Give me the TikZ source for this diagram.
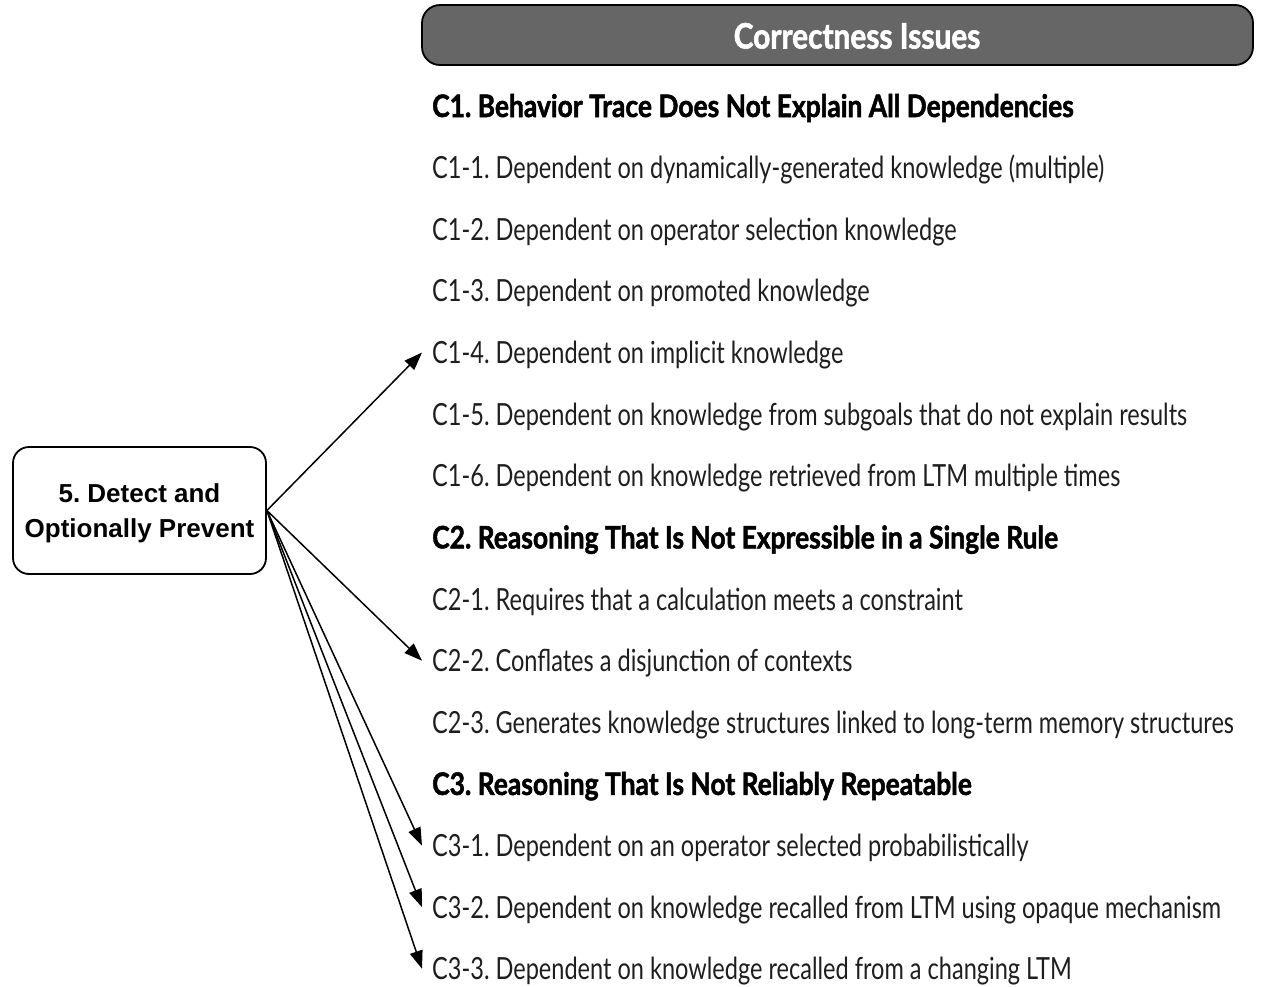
\documentclass[tikz,border=0pt]{standalone}
\usepackage{fontspec}
\setmainfont{Liberation Sans}
\newfontfamily\condreg{Lato}[FakeStretch=0.772]
\newfontfamily\condbold{Lato}[FakeStretch=0.852, BoldFeatures={FakeBold=1.6}]
\usetikzlibrary{arrows.meta}
\definecolor{hdrgray}{HTML}{666666}
\definecolor{txtdark}{HTML}{1E1E1E}
\frenchspacing
\tikzset{
  item/.style={anchor=west, inner xsep=10pt, inner ysep=0pt, text height=22pt, text depth=0pt,
    font=\frenchspacing\condreg\fontsize{30.5}{30.5}\selectfont, text=txtdark},
  headitem/.style={item, font=\frenchspacing\condbold\bfseries\fontsize{31}{31}\selectfont, text=black},
  arr/.style={-{Triangle[length=18pt,width=13pt]}, line width=1.5pt},
  srcbox/.style={draw, line width=1.8pt, rounded corners=16pt, minimum width=253pt, minimum height=127pt,
    inner sep=0pt},
  srctext/.style={align=center, font=\frenchspacing\bfseries\fontsize{26}{34.5}\selectfont, inner sep=0pt},
}
\begin{document}
\begin{tikzpicture}[x=1pt,y=-1pt]
\useasboundingbox (0,0) rectangle (1264,986);
% header
\draw[line width=1.8pt, fill=hdrgray, rounded corners=18pt] (422,5) rectangle (1253,65);
\node[font=\frenchspacing\condbold\bfseries\fontsize{35}{35}\selectfont, text=white, text height=25pt, text depth=0pt, inner sep=0pt] (hdr) at (857,36) {Correctness Issues};
% source box
\node[srcbox] (src) at (139.5,510.5) {};
\node[srctext] (srclabel) at (139.5,513.5) {5. Detect and\\Optionally Prevent};
% items
\node[headitem] (c1)  at (422,106)   {C1. Behavior Trace Does Not Explain All Dependencies};
\node[item]     (c11) at (422,167.6) {C1-1. Dependent on dynamically-generated knowledge (multiple)};
\node[item]     (c12) at (422,229.3) {C1-2. Dependent on operator selection knowledge};
\node[item]     (c13) at (422,290.9) {C1-3. Dependent on promoted knowledge};
\node[item]     (c14) at (422,352.5) {C1-4. Dependent on implicit knowledge};
\node[item]     (c15) at (422,414.2) {C1-5. Dependent on knowledge from subgoals that do not explain results};
\node[item]     (c16) at (422,475.8) {C1-6. Dependent on knowledge retrieved from LTM multiple times};
\node[headitem] (c2)  at (422,537.4) {C2. Reasoning That Is Not Expressible in a Single Rule};
\node[item]     (c21) at (422,599)   {C2-1. Requires that a calculation meets a constraint};
\node[item]     (c22) at (422,660.7) {C2-2. Conflates a disjunction of contexts};
\node[item]     (c23) at (422,722.3) {C2-3. Generates knowledge structures linked to long-term memory structures};
\node[headitem] (c3)  at (422,783.9) {C3. Reasoning That Is Not Reliably Repeatable};
\node[item]     (c31) at (422,845.6) {C3-1. Dependent on an operator selected probabilistically};
\node[item]     (c32) at (422,907.2) {C3-2. Dependent on knowledge recalled from LTM using opaque mechanism};
\node[item]     (c33) at (422,968.8) {C3-3. Dependent on knowledge recalled from a changing LTM};
% arrows
\foreach \t in {c14,c22,c31,c32,c33}
  \draw[arr] (src.east) -- (\t.west);
\end{tikzpicture}
\end{document}
